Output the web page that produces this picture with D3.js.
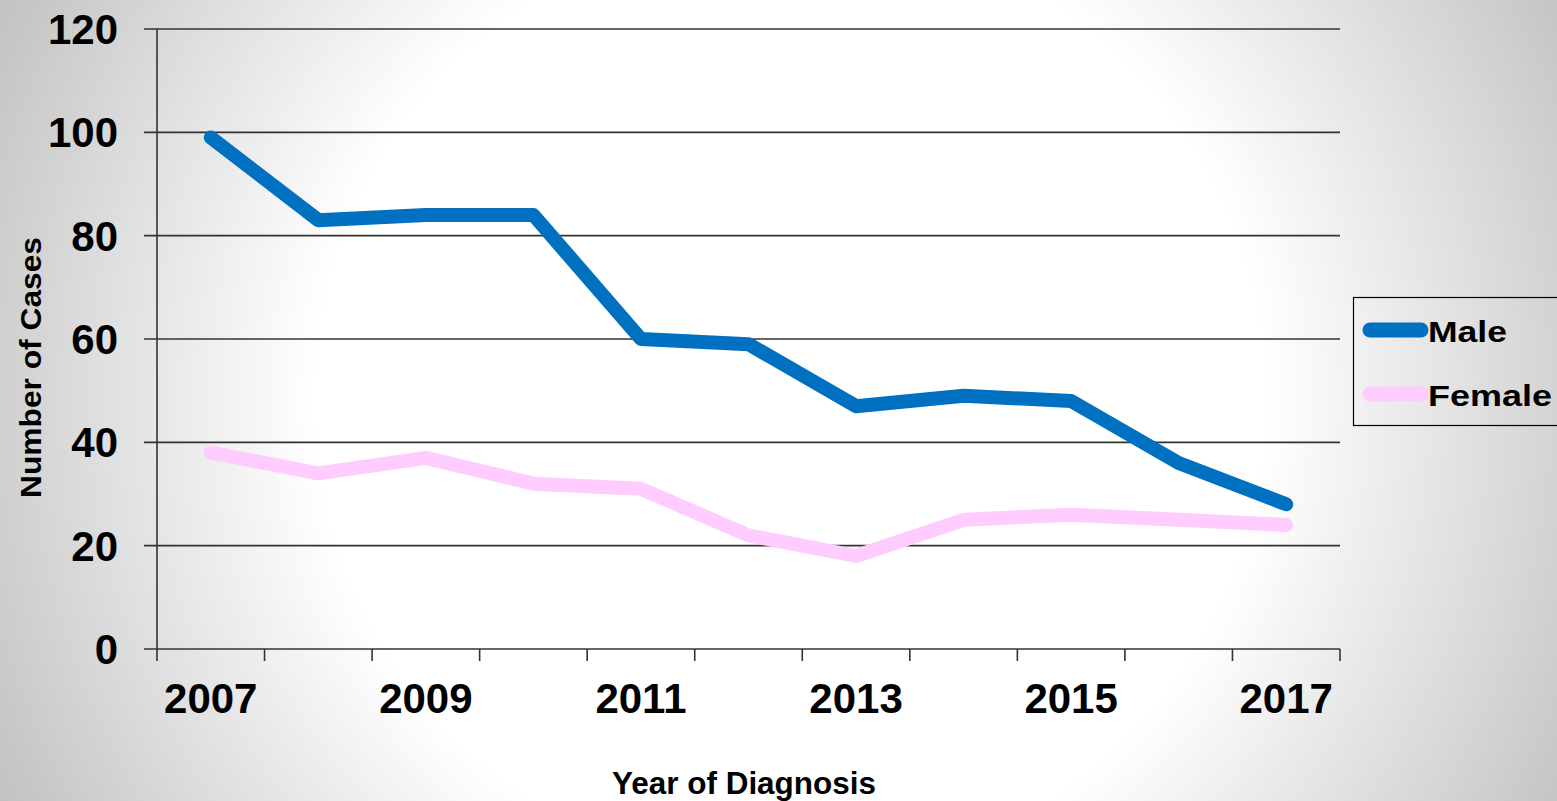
<!DOCTYPE html>
<html>
<head>
<meta charset="utf-8">
<script src="https://cdn.jsdelivr.net/npm/d3@7"></script>
<style>
  html, body { margin: 0; padding: 0; background: #fff; }
  svg { display: block; }
  text { font-family: "Liberation Sans", Arial, sans-serif; font-weight: bold; fill: #000; }
</style>
</head>
<body>
<svg id="chart" width="1557" height="801"></svg>
<script>
const years = [2007, 2008, 2009, 2010, 2011, 2012, 2013, 2014, 2015, 2016, 2017];
const male = [99, 83, 84, 84, 60, 59, 47, 49, 48, 36, 28];
const female = [38, 34, 37, 32, 31, 22, 18, 25, 26, 25, 24];
const yTicks = [0, 20, 40, 60, 80, 100, 120];
const xLabelYears = [2007, 2009, 2011, 2013, 2015, 2017];
const seriesNames = ["Male", "Female"];
const seriesColors = ["#0070C0", "#FFCCFF"];

(function () {
const W = 1557, H = 801;
const pLeft = 157, pRight = 1340, pTop = 29, pBottom = 649;

const svg = d3.select("#chart");

// background radial gradient
const defs = svg.append("defs");
const grad = defs.append("radialGradient")
  .attr("id", "bg").attr("gradientUnits", "userSpaceOnUse")
  .attr("cx", 790).attr("cy", 400).attr("r", 950);
grad.append("stop").attr("offset", "0").attr("stop-color", "#ffffff");
grad.append("stop").attr("offset", "0.5").attr("stop-color", "#ffffff");
grad.append("stop").attr("offset", "1").attr("stop-color", "#b8b8b8");
svg.append("rect").attr("width", W).attr("height", H).attr("fill", "url(#bg)");

const x = d3.scaleBand().domain(years).range([pLeft, pRight]).padding(0);
const y = d3.scaleLinear().domain([0, 120]).range([pBottom, pTop]);
const cx = d => x(d) + x.bandwidth() / 2;

// gridlines + left tick marks
svg.append("g").selectAll("line").data(yTicks.filter(t => t > 0)).join("line")
  .attr("x1", pLeft - 13).attr("x2", pRight)
  .attr("y1", d => y(d)).attr("y2", d => y(d))
  .attr("stroke", "#333").attr("stroke-width", 1.6);

// y axis labels
svg.append("g").selectAll("text").data(yTicks).join("text")
  .attr("x", 118).attr("y", d => y(d) + 15)
  .attr("text-anchor", "end").attr("font-size", 42)
  .text(d => d);

// axes lines
svg.append("line").attr("x1", pLeft).attr("x2", pLeft).attr("y1", pTop).attr("y2", pBottom)
  .attr("stroke", "#333").attr("stroke-width", 1.6);
svg.append("line").attr("x1", pLeft - 13).attr("x2", pRight).attr("y1", pBottom).attr("y2", pBottom)
  .attr("stroke", "#333").attr("stroke-width", 1.6);

// x tick marks at category boundaries
const bounds = years.map(d => x(d)).concat([x(years[years.length - 1]) + x.bandwidth()]);
svg.append("g").selectAll("line").data(bounds).join("line")
  .attr("x1", d => d).attr("x2", d => d)
  .attr("y1", pBottom).attr("y2", pBottom + 12)
  .attr("stroke", "#333").attr("stroke-width", 1.6);

// x labels
svg.append("g").selectAll("text").data(xLabelYears).join("text")
  .attr("x", d => cx(d)).attr("y", 713)
  .attr("text-anchor", "middle").attr("font-size", 42)
  .text(d => d);

// axis titles
svg.append("text").attr("x", 744).attr("y", 794)
  .attr("text-anchor", "middle").attr("font-size", 31)
  .attr("textLength", 264).attr("lengthAdjust", "spacingAndGlyphs")
  .text("Year of Diagnosis");
svg.append("text")
  .attr("transform", "translate(41,367.5) rotate(-90)")
  .attr("text-anchor", "middle").attr("font-size", 30)
  .attr("textLength", 261).attr("lengthAdjust", "spacingAndGlyphs")
  .text("Number of Cases");

// lines
const line = d3.line().x((d, i) => cx(years[i])).y(d => y(d));
[male, female].forEach((s, k) => {
  svg.append("path").datum(s)
    .attr("d", line)
    .attr("fill", "none")
    .attr("stroke", seriesColors[k])
    .attr("stroke-width", 14)
    .attr("stroke-linecap", "round")
    .attr("stroke-linejoin", "round");
});

// legend
const lg = svg.append("g");
lg.append("rect").attr("x", 1353.5).attr("y", 297.5).attr("width", 210).attr("height", 128)
  .attr("fill", "none").attr("stroke", "#000").attr("stroke-width", 1.2);
const legendY = [330, 394];
const legendLen = [79, 124];
seriesNames.forEach((n, k) => {
  lg.append("line").attr("x1", 1370).attr("x2", 1421)
    .attr("y1", legendY[k]).attr("y2", legendY[k])
    .attr("stroke", seriesColors[k]).attr("stroke-width", 15).attr("stroke-linecap", "round");
  lg.append("text").attr("x", 1428).attr("y", legendY[k] + 12)
    .attr("font-size", 29)
    .attr("textLength", legendLen[k]).attr("lengthAdjust", "spacingAndGlyphs")
    .text(n);
});
})();
</script>
</body>
</html>
